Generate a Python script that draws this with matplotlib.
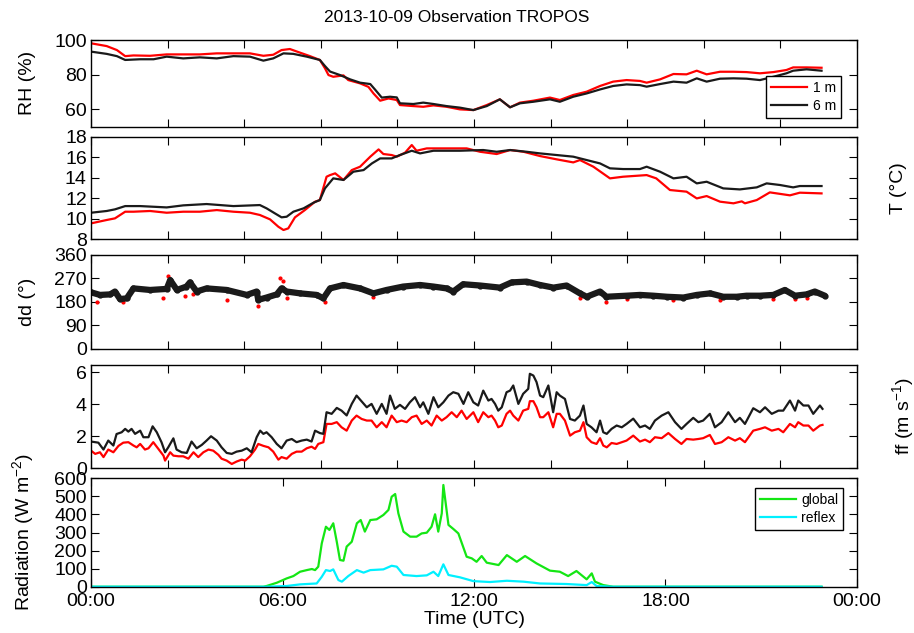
import numpy as np
import matplotlib
matplotlib.use('Agg')
import matplotlib.pyplot as plt

plt.rcParams['font.family'] = ['Liberation Sans', 'DejaVu Sans']
plt.rcParams['font.size'] = 14
plt.rcParams['mathtext.default'] = 'regular'

################################################################################
# data (time in hours UTC)

# relative humidity (%)
rh1_t = [0, 0.49, 0.81, 1.07, 1.33, 1.85, 2.37, 2.89, 3.41, 3.94, 4.46, 4.98, 5.40, 5.71, 5.97,
         6.23, 6.55, 6.86, 7.17, 7.33, 7.44, 7.59, 7.91, 8.06, 8.43, 8.69, 8.85, 9.06, 9.32, 9.58,
         9.68, 10.10, 10.41, 10.73, 11.14, 11.56, 11.98, 12.40, 12.81, 13.13, 13.44, 13.86, 14.38,
         14.69, 15.11, 15.53, 15.95, 16.36, 16.78, 17.20, 17.41, 17.83, 18.25, 18.66, 18.98, 19.29,
         19.71, 20.13, 20.54, 20.96, 21.38, 21.79, 22.00, 22.42, 22.89]
rh1 = [98.1, 96.5, 94.2, 90.7, 91.1, 90.9, 91.7, 91.7, 91.7, 92.3, 92.3, 92.3, 90.9, 91.5, 94.2,
       94.8, 92.7, 90.7, 88.5, 83.7, 79.8, 78.8, 79.6, 76.9, 75.0, 73.0, 69.2, 65.0, 66.3, 65.4,
       62.5, 61.9, 61.5, 62.3, 61.5, 60.0, 59.6, 62.5, 65.8, 61.2, 63.9, 65.0, 66.8,
       65.4, 68.3, 70.2, 73.5, 76.0, 76.9, 76.4, 75.4, 77.3, 80.4, 80.2, 82.3, 80.2,
       81.7, 81.7, 81.5, 80.8, 81.5, 82.7, 84.2, 84.2, 84.0]
rh6_t = [0, 0.49, 0.81, 1.07, 1.54, 1.96, 2.37, 2.89, 3.41, 3.94, 4.46, 4.98, 5.40, 5.71, 6.03,
         6.34, 6.76, 7.17, 7.33, 7.49, 7.80, 8.12, 8.43, 8.75, 8.91, 9.11, 9.37, 9.58, 9.68, 10.10,
         10.41, 10.73, 11.14, 11.56, 11.98, 12.40, 12.81, 13.13, 13.44, 13.86, 14.38, 14.69, 15.11,
         15.53, 15.95, 16.36, 16.78, 17.20, 17.41, 17.83, 18.25, 18.66, 18.98, 19.29, 19.71, 20.13,
         20.54, 20.96, 21.38, 21.79, 22.00, 22.42, 22.89]
rh6 = [93.3, 92.0, 90.7, 88.5, 88.9, 88.9, 90.4, 89.4, 90.0, 89.4, 90.7, 90.4, 88.1, 89.4, 92.3,
       92.0, 90.4, 88.5, 85.0, 81.8, 79.8, 77.3, 75.4, 74.6, 71.2, 66.8, 67.3, 66.9, 63.5, 63.1,
       63.9, 63.1, 61.9, 61.0, 59.6, 61.9, 65.8, 61.2, 63.5, 64.4, 65.8, 64.4, 67.3,
       69.2, 71.5, 73.5, 74.4, 74.0, 73.1, 74.6, 76.0, 75.4, 77.9, 76.0, 77.7, 77.9,
       77.7, 76.9, 78.8, 80.8, 82.3, 83.1, 82.3]

# temperature (degC)
t1_t = [0, 0.49, 0.75, 1.07, 1.33, 1.85, 2.37, 2.89, 3.41, 3.94, 4.46, 4.98, 5.29, 5.61, 5.87,
        6.03, 6.18, 6.39, 6.70, 7.02, 7.17, 7.38, 7.49, 7.65, 7.91, 8.17, 8.43, 8.75, 9.01, 9.16,
        9.42, 9.58, 9.84, 10.05, 10.20, 10.52, 10.83, 11.35, 11.77, 12.19, 12.71, 13.13, 13.55,
        14.07, 14.59, 15.11, 15.32, 15.74, 16.26, 16.67, 17.41, 17.71, 18.14, 18.66, 18.98, 19.29,
        19.71, 20.13, 20.39, 20.49, 20.86, 21.27, 21.90, 22.21, 22.89]
t1 = [9.53, 9.86, 10.02, 10.67, 10.67, 10.74, 10.57, 10.67, 10.67, 10.83, 10.67, 10.57, 10.35, 9.92, 9.2,
      8.88, 9.04, 10.12, 10.83, 11.65, 11.81, 14.09, 14.25, 14.42, 13.77, 14.74, 15.07, 16.05, 16.76, 16.31,
      16.21, 16.05, 16.44, 17.19, 16.63, 16.86, 16.86, 16.86, 16.86, 16.53, 16.31, 16.70, 16.53,
      16.11, 15.79, 15.49, 15.72, 15.07, 13.93, 14.09, 14.25, 13.93, 12.79, 12.63, 11.97, 12.2,
      11.65, 11.49, 11.68, 11.49, 11.81, 12.56, 12.27, 12.53, 12.46]
t6_t = [0, 0.49, 0.75, 1.07, 1.54, 2.37, 2.89, 3.62, 4.46, 5.29, 5.50, 5.76, 5.97, 6.13, 6.34,
        6.66, 6.97, 7.17, 7.33, 7.59, 7.91, 8.22, 8.54, 8.80, 9.06, 9.42, 9.68, 10.05, 10.31, 10.73,
        11.14, 11.56, 12.29, 12.71, 13.13, 13.65, 14.07, 14.59, 15.11, 15.53, 15.95, 16.26, 16.67,
        17.20, 17.41, 17.83, 18.25, 18.66, 18.98, 19.29, 19.81, 20.33, 20.86, 21.17, 21.59, 22.00,
        22.21, 22.89]
t6 = [10.57, 10.74, 10.9, 11.22, 11.22, 11.09, 11.29, 11.42, 11.22, 11.32, 11.0, 10.51, 10.12, 10.18, 10.67,
      11.0, 11.55, 11.81, 12.95, 13.93, 13.77, 14.58, 14.74, 15.39, 15.88, 15.88, 16.21, 16.63, 16.37, 16.63,
      16.63, 16.63, 16.70, 16.53, 16.70, 16.53, 16.37, 16.21, 16.05, 15.72, 15.39, 14.91, 14.84,
      14.84, 15.07, 14.58, 13.93, 14.09, 13.44, 13.60, 12.95, 12.85, 13.05, 13.44, 13.28, 13.05,
      13.18, 13.18]

# wind direction (deg)
dd6_t = [0, 0.28, 0.60, 0.75, 0.91, 1.12, 1.33, 1.85, 2.37, 2.48, 2.69, 2.99, 3.10, 3.31, 3.62,
         4.25, 4.88, 5.19, 5.24, 5.50, 5.82, 5.97, 6.13, 6.55, 7.07, 7.28, 7.49, 7.91, 8.43, 8.85,
         9.26, 9.78, 10.31, 10.73, 11.14, 11.35, 11.66, 12.19, 12.81, 13.18, 13.65, 14.07, 14.49,
         14.90, 15.32, 15.53, 15.95, 16.15, 16.78, 17.20, 17.62, 18.04, 18.56, 18.98, 19.40, 19.81,
         20.23, 20.54, 20.96, 21.38, 21.74, 22.06, 22.42, 22.68, 22.99]
dd6 = [217, 207, 209, 220, 191, 194, 232, 226, 230, 264, 226, 239, 255, 220, 232,
       226, 207, 220, 188, 197, 209, 232, 220, 213, 207, 194, 232, 245, 232, 213,
       226, 239, 245, 239, 232, 220, 248, 243, 235, 255, 258, 245, 235,
       243, 213, 200, 220, 200, 204, 207, 204, 200, 197, 207, 213, 200,
       200, 204, 204, 207, 226, 204, 209, 220, 204]
dd1_t = [0.20, 0.99, 2.24, 2.42, 2.95, 3.21, 4.25, 5.24, 5.92, 6.03, 6.15, 7.33, 8.85,
         15.32, 16.15, 16.78, 18.24, 19.70, 21.38, 22.06, 22.42]
dd1 = [181, 179, 197, 281, 204, 209, 188, 166, 271, 260, 197, 181, 200,
       194, 181, 191, 188, 188, 191, 191, 194]

# wind speed (m/s)
ff6_t_am = [0, 0.23, 0.39, 0.54, 0.70, 0.80, 0.96, 1.07, 1.17, 1.27, 1.38, 1.54, 1.64, 1.80, 1.93,
            2.06, 2.21, 2.32, 2.42, 2.58, 2.68, 2.84, 3.00, 3.15, 3.31, 3.47, 3.62, 3.76, 3.94, 4.09,
            4.25, 4.41, 4.56, 4.72, 4.88, 5.03, 5.19, 5.30, 5.40, 5.50, 5.66, 5.82, 5.97, 6.13, 6.29,
            6.44, 6.60, 6.76, 6.91, 7.02, 7.17, 7.28, 7.38, 7.54, 7.70, 7.85, 8.01, 8.17, 8.32, 8.48,
            8.64, 8.79, 8.95, 9.11, 9.26, 9.37, 9.52, 9.68, 9.84, 9.99, 10.15, 10.31, 10.41, 10.57,
            10.73, 10.88, 11.04, 11.20, 11.35, 11.51, 11.67, 11.82]
ff6_am = [1.67, 1.6, 1.17, 1.73, 1.42, 2.14, 2.25, 2.46, 2.29, 2.46, 2.15, 2.35, 1.94, 1.94, 2.62,
          2.25, 1.62, 1.0, 1.31, 1.87, 1.17, 1.0, 0.96, 1.67, 1.25, 1.46, 1.73, 2.0, 1.73, 1.31,
          0.96, 0.9, 1.04, 1.1, 1.25, 1.0, 1.94, 2.35, 2.15, 2.25, 1.94, 1.52, 1.25, 1.73, 1.83,
          1.63, 1.73, 1.79, 1.67, 2.35, 2.2, 2.15, 3.5, 3.4, 3.77, 3.6, 3.3, 4.02, 4.54, 4.17,
          3.81, 4.02, 3.4, 4.02, 3.4, 4.54, 3.71, 3.96, 3.71, 4.12, 4.44, 3.81, 4.12, 3.4,
          4.44, 3.81, 4.12, 4.54, 4.75, 4.65, 4.02, 4.75]
ff1_t_am = [0, 0.13, 0.28, 0.39, 0.54, 0.70, 0.86, 1.01, 1.17, 1.33, 1.43, 1.54, 1.69, 1.80, 1.95,
            2.11, 2.27, 2.32, 2.48, 2.58, 2.74, 2.89, 3.05, 3.21, 3.36, 3.52, 3.68, 3.83, 3.99, 4.09,
            4.25, 4.41, 4.56, 4.72, 4.83, 4.98, 5.14, 5.24, 5.40, 5.56, 5.71, 5.87, 5.97, 6.13, 6.29,
            6.44, 6.60, 6.76, 6.91, 7.02, 7.12, 7.28, 7.38, 7.54, 7.70, 7.85, 8.01, 8.17, 8.32, 8.48,
            8.64, 8.79, 8.95, 9.11, 9.26, 9.42, 9.58, 9.73, 9.89, 10.05, 10.20, 10.36, 10.52, 10.67,
            10.83, 10.99, 11.14, 11.30, 11.46, 11.61, 11.77]
ff1_am = [1.1, 0.9, 1.0, 0.7, 1.17, 1.0, 1.4, 1.6, 1.63, 1.42, 1.31, 1.52, 1.17, 1.25, 1.63,
          1.21, 0.79, 0.48, 1.0, 0.79, 0.75, 0.75, 0.6, 1.0, 0.7, 1.0, 1.17, 1.1, 0.84, 0.6,
          0.48, 0.27, 0.42, 0.54, 0.48, 0.75, 1.17, 1.52, 1.4, 1.31, 1.04, 0.54, 0.7, 0.6, 0.9,
          1.04, 1.04, 1.25, 1.35, 1.21, 1.52, 1.63, 2.77, 2.77, 2.88, 2.56, 2.35, 2.98, 3.29, 3.08,
          2.98, 2.98, 2.56, 2.88, 2.56, 3.29, 2.88, 2.98, 2.88, 3.19, 3.29, 2.77, 2.98, 2.67,
          3.29, 2.98, 3.19, 3.5, 3.19, 3.6, 3.08]
ff_t_pm = [11.98, 12.13, 12.29, 12.45, 12.55, 12.66, 12.76, 12.87, 13.02, 13.13, 13.23, 13.39, 13.54,
           13.70, 13.75, 13.86, 13.96, 14.07, 14.17, 14.33, 14.48, 14.59, 14.69, 14.85, 15.01, 15.16,
           15.32, 15.43, 15.53, 15.68, 15.84, 15.95, 16.05, 16.16, 16.31, 16.47, 16.63, 16.78, 16.99,
           17.20, 17.36, 17.51, 17.67, 17.88, 18.09, 18.30, 18.50, 18.66, 18.87, 19.03, 19.18, 19.39,
           19.55, 19.76, 19.97, 20.18, 20.33, 20.49, 20.75, 20.96, 21.12, 21.33, 21.54, 21.69, 21.90,
           22.06, 22.16, 22.32, 22.48, 22.63, 22.84, 22.92]
ff6_pm = [4.12, 3.92, 4.85, 4.23, 4.33, 4.02, 3.6, 3.81, 4.75, 4.85, 5.17, 4.02, 4.65,
          4.96, 5.9, 5.79, 5.38, 4.54, 4.44, 5.17, 3.5, 4.75, 4.54, 4.33, 3.08, 2.98,
          3.29, 3.92, 2.77, 2.56, 2.25, 2.98, 2.25, 2.15, 2.46, 2.67, 2.56, 2.77, 3.1,
          2.56, 2.67, 2.46, 2.98, 3.29, 3.5, 2.88, 2.46, 2.77, 3.15, 2.88, 2.98, 3.4,
          2.56, 2.88, 3.5, 2.88, 3.15, 2.77, 3.75, 3.5, 3.81, 3.4, 3.6, 3.6, 4.23,
          3.6, 4.23, 3.92, 3.92, 3.4, 3.92, 3.71]
ff1_pm = [3.5, 2.88, 3.5, 3.19, 3.29, 2.98, 2.56, 2.67, 3.4, 3.6, 3.29, 2.98, 3.6,
          3.71, 4.19, 4.19, 3.81, 3.19, 3.19, 3.5, 2.56, 3.4, 3.4, 2.98, 2.04, 2.25,
          2.35, 2.88, 1.94, 1.63, 1.52, 1.88, 1.42, 1.31, 1.58, 1.52, 1.63, 1.73, 2.04,
          1.67, 1.79, 1.63, 1.94, 1.88, 2.2, 1.83, 1.52, 1.83, 1.79, 1.83, 1.88, 2.08,
          1.52, 1.63, 1.94, 1.73, 1.88, 1.63, 2.35, 2.46, 2.56, 2.35, 2.46, 2.25, 2.77,
          2.56, 2.88, 2.67, 2.67, 2.35, 2.67, 2.71]

# radiation (W m-2)
glob_t = [0, 5.40, 5.50, 5.82, 6.13, 6.34, 6.55, 6.76, 6.92, 7.02, 7.12, 7.23, 7.36, 7.47, 7.59,
          7.70, 7.80, 7.91, 8.01, 8.17, 8.33, 8.45, 8.58, 8.75, 8.95, 9.16, 9.32, 9.42, 9.53, 9.63,
          9.79, 10.0, 10.2, 10.36, 10.52, 10.67, 10.78, 10.88, 10.99, 11.04, 11.14, 11.20, 11.35,
          11.51, 11.77, 11.93, 12.08, 12.24, 12.40, 12.77, 13.03, 13.34, 13.60, 13.96, 14.38, 14.69,
          14.95, 15.21, 15.53, 15.69, 15.79, 16.05, 16.36, 22.89]
glob = [0, 0, 4, 22, 46, 59, 83, 92, 98, 92, 111, 240, 332, 314, 351,
        249, 148, 144, 222, 249, 351, 369, 305, 369, 373, 397, 425, 498, 513, 406,
        305, 277, 277, 295, 299, 332, 401, 305, 406, 563, 425, 342, 320,
        295, 166, 157, 138, 170, 133, 120, 175, 138, 170, 129, 89, 83,
        59, 87, 41, 74, 28, 9, 0, 0]
refl_t = [0, 5.50, 6.13, 6.55, 7.07, 7.23, 7.36, 7.49, 7.59, 7.75, 7.86, 8.06, 8.33, 8.54, 8.75,
          9.16, 9.42, 9.58, 9.79, 10.2, 10.52, 10.73, 10.88, 11.04, 11.20, 11.56, 11.98, 12.50,
          13.03, 13.55, 14.07, 14.90, 15.53, 15.69, 15.84, 16.36, 22.89]
refl = [0, 0, 4, 13, 18, 55, 92, 87, 96, 37, 28, 59, 92, 78, 92,
        96, 116, 111, 65, 59, 63, 83, 59, 124, 65, 52, 31, 26,
        33, 28, 18, 15, 9, 26, 4, 0, 0]

################################################################################
# plot
fig = plt.figure(figsize=(9.14, 6.33), dpi=100)

# axes boxes in figure fractions (left, bottom, width, height)
boxes = [(0.0996, 0.7998, 0.838, 0.137),
         (0.0996, 0.6224, 0.838, 0.1616),
         (0.0996, 0.4487, 0.838, 0.1485),
         (0.0996, 0.2602, 0.838, 0.1632),
         (0.0996, 0.0731, 0.838, 0.1713)]
axs = [fig.add_axes(b) for b in boxes]

red = '#ff0000'
blk = '#1a1a1a'
lw = 1.6

ax = axs[0]
ax.plot(rh1_t, rh1, color=red, lw=lw, label='1 m')
ax.plot(rh6_t, rh6, color=blk, lw=lw, label='6 m')
ax.set_ylim(50, 100)
ax.set_yticks([60, 80, 100])
ax.set_ylabel('RH (%)')
ax.legend(loc='lower right', bbox_to_anchor=(0.979, 0.10), borderaxespad=0, fontsize=10,
          fancybox=False, edgecolor='black', framealpha=1, handlelength=2.6,
          handletextpad=0.4, labelspacing=0.3, borderpad=0.35)

ax = axs[1]
ax.plot(t1_t, t1, color=red, lw=lw)
ax.plot(t6_t, t6, color=blk, lw=lw)
ax.set_ylim(8, 18)
ax.set_yticks([8, 10, 12, 14, 16, 18])
ax.yaxis.set_label_position('right')
ax.set_ylabel('T (°C)')

ax = axs[2]
ax.plot(dd1_t, dd1, ls='none', marker='o', ms=2, color=red, mec=red)
ax.plot(dd6_t, dd6, color=blk, lw=4.5, marker='o', ms=3.5, solid_capstyle='round',
        solid_joinstyle='round')
ax.set_ylim(0, 360)
ax.set_yticks([0, 90, 180, 270, 360])
ax.set_ylabel('dd (°)')

ax = axs[3]
ax.plot(ff1_t_am + ff_t_pm, ff1_am + ff1_pm, color=red, lw=lw)
ax.plot(ff6_t_am + ff_t_pm, ff6_am + ff6_pm, color=blk, lw=lw)
ax.set_ylim(0, 6.45)
ax.set_yticks([0, 2, 4, 6])
ax.yaxis.set_label_position('right')
ax.set_ylabel('ff (m s$^{-1}$)')

ax = axs[4]
ax.plot(glob_t, glob, color='#14e614', lw=lw, label='global')
ax.plot(refl_t, refl, color='#00f0ff', lw=lw, label='reflex')
ax.set_ylim(0, 600)
ax.set_yticks(range(0, 601, 100))
ax.set_ylabel('Radiation (W m$^{-2}$)')
ax.set_xlabel('Time (UTC)', labelpad=1)
ax.legend(loc='upper right', bbox_to_anchor=(0.982, 0.911), borderaxespad=0, fontsize=10,
          fancybox=False, edgecolor='black', framealpha=1, handlelength=2.6,
          handletextpad=0.4, labelspacing=0.3, borderpad=0.35)

for i, ax in enumerate(axs):
    ax.set_xlim(0, 24)
    if i < 4:
        ax.set_xticks(np.linspace(0, 24, 11))
        ax.set_xticklabels([])
    else:
        ax.set_xticks([0, 6, 12, 18, 24])
        ax.set_xticklabels(['00:00', '06:00', '12:00', '18:00', '00:00'])
    ax.tick_params(direction='in', length=5.5, width=0.8, top=True, right=True)
    ax.tick_params(axis='x', pad=4.5)
    ax.tick_params(axis='y', pad=3)
    for s in ax.spines.values():
        s.set_linewidth(1.0)
    if ax.yaxis.get_label_position() == 'right':
        ax.yaxis.set_label_coords(1.043, 0.5)
    else:
        ax.yaxis.set_label_coords(-0.072, 0.5)

fig.text(0.5, 0.9716, '2013-10-09 Observation TROPOS', ha='center', va='center', fontsize=12.5)

fig.savefig('out.png', dpi=100)
